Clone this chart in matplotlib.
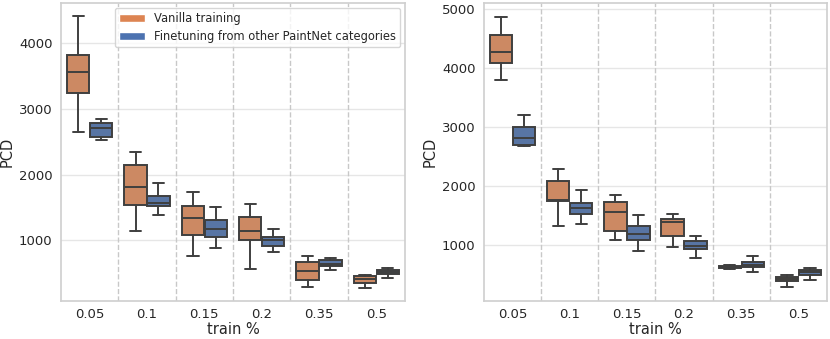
import matplotlib
matplotlib.use("Agg")
import matplotlib.pyplot as plt
from matplotlib.patches import Patch
import seaborn as sns

sns.set_theme(style="whitegrid")
plt.rcParams['font.family'] = ['DejaVu Sans']

categories = ["0.05", "0.1", "0.15", "0.2", "0.35", "0.5"]
series_names = ["Vanilla training", "Finetuning from other PaintNet categories"]

# Left panel: [whislo, q1, med, q3, whishi] per category
left_vanilla = [
    [2643, 3237, 3558, 3810, 4403],
    [1140, 1533, 1814, 2140, 2336],
    [763, 1090, 1336, 1528, 1729],
    [563, 1010, 1140, 1357, 1558],
    [296, 402, 537, 668, 759],
    [281, 347, 422, 467, 482],
]
left_finetune = [
    [2528, 2573, 2703, 2784, 2849],
    [1392, 1528, 1563, 1679, 1875],
    [879, 1045, 1170, 1306, 1503],
    [824, 914, 1000, 1050, 1181],
    [548, 613, 638, 698, 729],
    [431, 492, 528, 558, 578],
]
# Right panel
right_vanilla = [
    [3795, 4081, 4259, 4552, 4860],
    [1313, 1746, 1758, 2071, 2290],
    [1084, 1229, 1561, 1718, 1847],
    [966, 1152, 1387, 1431, 1516],
    [589, 596, 618, 646, 657],
    [281, 377, 416, 444, 483],
]
right_finetune = [
    [2677, 2688, 2801, 2992, 3199],
    [1354, 1527, 1616, 1712, 1926],
    [899, 1084, 1178, 1320, 1510],
    [774, 926, 983, 1056, 1152],
    [534, 623, 657, 702, 808],
    [399, 488, 529, 562, 601],
]

legend_colors = ["#DD8452", "#4C72B0"]
box_colors = ["#CC8963", "#5875A4"]
line_color = "#3f3f3f"

fig = plt.figure(figsize=(8.3, 3.39), dpi=100)
ax1 = fig.add_axes([0.0735, 0.113, 0.4145, 0.878])
ax2 = fig.add_axes([0.583, 0.113, 0.4135, 0.878])


def to_stats(rows):
    out = []
    for r in rows:
        out.append(dict(whislo=r[0], q1=r[1], med=r[2], q3=r[3], whishi=r[4], fliers=[]))
    return out


def draw(ax, vanilla, finetune, ylim, yticks):
    n = len(categories)
    for j, (data, off) in enumerate([(vanilla, -0.2), (finetune, 0.2)]):
        pos = [i + off for i in range(n)]
        ax.bxp(to_stats(data), positions=pos, widths=0.392, patch_artist=True,
               showfliers=False,
               boxprops=dict(facecolor=box_colors[j], edgecolor=line_color, linewidth=1.4),
               medianprops=dict(color=line_color, linewidth=1.4),
               whiskerprops=dict(color=line_color, linewidth=1.4),
               capprops=dict(color=line_color, linewidth=1.4),
               manage_ticks=False, zorder=3)
    for b in range(n - 1):
        ax.axvline(b + 0.5, color="#c8c8c8", linestyle="--", linewidth=1.0, zorder=1)
    ax.set_xlim(-0.5, n - 0.5)
    ax.set_xticks(range(n))
    ax.set_xticklabels(categories, fontsize=9.5)
    ax.set_ylim(*ylim)
    ax.set_yticks(yticks)
    ax.set_yticklabels([str(t) for t in yticks], fontsize=9.5)
    ax.xaxis.grid(False)
    ax.yaxis.grid(True, color="#e6e6e6", linewidth=1.0)
    ax.set_xlabel("train %", fontsize=10.5, labelpad=0.5)
    ax.set_ylabel("PCD", fontsize=10.5, labelpad=3)
    ax.tick_params(axis="x", length=0, pad=5.5, colors="#262626")
    ax.tick_params(axis="y", length=0, pad=6, colors="#262626")
    for s in ax.spines.values():
        s.set_color("#d0d0d0")


draw(ax1, left_vanilla, left_finetune, (85, 4606), [1000, 2000, 3000, 4000])
draw(ax2, right_vanilla, right_finetune, (50, 5095), [1000, 2000, 3000, 4000, 5000])

handles = [Patch(facecolor=legend_colors[0], edgecolor="white", label=series_names[0]),
           Patch(facecolor=legend_colors[1], edgecolor="white", label=series_names[1])]
ax1.legend(handles=handles, loc="upper right", fontsize=8.3, frameon=True,
           borderaxespad=0.4, handlelength=2.2, labelspacing=0.38)

fig.savefig("out.png", dpi=100)
